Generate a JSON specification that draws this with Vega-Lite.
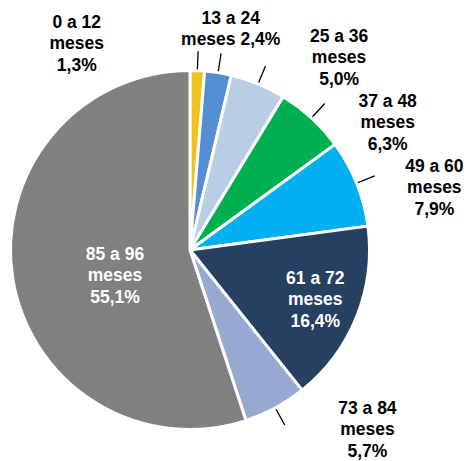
{
  "$schema": "https://vega.github.io/schema/vega-lite/v6.json",
  "width": 380,
  "height": 422,
  "autosize": {"type": "none"},
  "padding": {"left": 0, "top": 39, "right": 86, "bottom": 0},
  "background": "white",
  "config": {"view": {"stroke": null}},
  "data": {"values": [
    {"cat": "0 a 12 meses", "ord": 1, "value": 1.3, "label": "0 a 12\nmeses\n1,3%"},
    {"cat": "13 a 24 meses", "ord": 2, "value": 2.4, "label": "13 a 24\nmeses 2,4%"},
    {"cat": "25 a 36 meses", "ord": 3, "value": 5.0, "label": "25 a 36\nmeses\n5,0%"},
    {"cat": "37 a 48 meses", "ord": 4, "value": 6.3, "label": "37 a 48\nmeses\n6,3%"},
    {"cat": "49 a 60 meses", "ord": 5, "value": 7.9, "label": "49 a 60\nmeses\n7,9%"},
    {"cat": "61 a 72 meses", "ord": 6, "value": 16.4, "label": "61 a 72\nmeses\n16,4%"},
    {"cat": "73 a 84 meses", "ord": 7, "value": 5.7, "label": "73 a 84\nmeses\n5,7%"},
    {"cat": "85 a 96 meses", "ord": 8, "value": 55.1, "label": "85 a 96\nmeses\n55,1%"}
  ]},
  "transform": [
    {"stack": "value", "groupby": [], "sort": [{"field": "ord", "order": "ascending"}], "as": ["s0", "s1"]},
    {"calculate": "(datum.s0 + datum.s1) / 2", "as": "mid"}
  ],
  "layer": [
    {
      "mark": {"type": "arc", "radius": 179.5, "stroke": "white", "strokeWidth": 3},
      "encoding": {
        "theta": {"field": "s1", "type": "quantitative", "stack": null, "scale": {"domain": [0, 100.1]}},
        "theta2": {"field": "s0"},
        "color": {"field": "cat", "type": "nominal", "legend": null,
          "scale": {"domain": ["0 a 12 meses","13 a 24 meses","25 a 36 meses","37 a 48 meses","49 a 60 meses","61 a 72 meses","73 a 84 meses","85 a 96 meses"],
                    "range": ["#F1C21B","#558ED5","#B9CDE5","#00B050","#00B0F0","#254061","#95A9D3","#808080"]}}
      }
    },
    {
      "transform": [{"filter": "datum.ord != 6 && datum.ord != 8"}],
      "mark": {"type": "arc", "radius": 199, "radius2": 181, "fill": null, "stroke": "black", "strokeWidth": 1.3},
      "encoding": {
        "theta": {"field": "mid", "type": "quantitative", "stack": null},
        "theta2": {"field": "mid"}
      }
    },
    {
      "transform": [{"filter": "datum.ord == 1"}],
      "mark": {"type": "text", "radius": 190, "dx": -121, "dy": -37.5, "font": "Liberation Sans", "fontWeight": "bold", "fontSize": 17.5, "lineHeight": 21.5, "lineBreak": "\n", "align": "center", "baseline": "middle", "color": "black"},
      "encoding": {"theta": {"field": "mid", "type": "quantitative", "stack": null}, "text": {"field": "label"}}
    },
    {
      "transform": [{"filter": "datum.ord == 2"}],
      "mark": {"type": "text", "radius": 190, "dx": 11, "dy": -43.5, "font": "Liberation Sans", "fontWeight": "bold", "fontSize": 17.5, "lineHeight": 21.5, "lineBreak": "\n", "align": "center", "baseline": "middle", "color": "black"},
      "encoding": {"theta": {"field": "mid", "type": "quantitative", "stack": null}, "text": {"field": "label"}}
    },
    {
      "transform": [{"filter": "datum.ord == 3"}],
      "mark": {"type": "text", "radius": 190, "dx": 77, "dy": -37.5, "font": "Liberation Sans", "fontWeight": "bold", "fontSize": 17.5, "lineHeight": 21.5, "lineBreak": "\n", "align": "center", "baseline": "middle", "color": "black"},
      "encoding": {"theta": {"field": "mid", "type": "quantitative", "stack": null}, "text": {"field": "label"}}
    },
    {
      "transform": [{"filter": "datum.ord == 4"}],
      "mark": {"type": "text", "radius": 190, "dx": 69, "dy": -8.5, "font": "Liberation Sans", "fontWeight": "bold", "fontSize": 17.5, "lineHeight": 21.5, "lineBreak": "\n", "align": "center", "baseline": "middle", "color": "black"},
      "encoding": {"theta": {"field": "mid", "type": "quantitative", "stack": null}, "text": {"field": "label"}}
    },
    {
      "transform": [{"filter": "datum.ord == 5"}],
      "mark": {"type": "text", "radius": 190, "dx": 68, "dy": -12.5, "font": "Liberation Sans", "fontWeight": "bold", "fontSize": 17.5, "lineHeight": 21.5, "lineBreak": "\n", "align": "center", "baseline": "middle", "color": "black"},
      "encoding": {"theta": {"field": "mid", "type": "quantitative", "stack": null}, "text": {"field": "label"}}
    },
    {
      "transform": [{"filter": "datum.ord == 6"}],
      "mark": {"type": "text", "radius": 135, "dy": -21.5, "font": "Liberation Sans", "fontWeight": "bold", "fontSize": 17.5, "lineHeight": 21.5, "lineBreak": "\n", "align": "center", "baseline": "middle", "color": "white"},
      "encoding": {"theta": {"field": "mid", "type": "quantitative", "stack": null}, "text": {"field": "label"}}
    },
    {
      "transform": [{"filter": "datum.ord == 7"}],
      "mark": {"type": "text", "radius": 190, "dx": 87, "dy": -8.5, "font": "Liberation Sans", "fontWeight": "bold", "fontSize": 17.5, "lineHeight": 21.5, "lineBreak": "\n", "align": "center", "baseline": "middle", "color": "black"},
      "encoding": {"theta": {"field": "mid", "type": "quantitative", "stack": null}, "text": {"field": "label"}}
    },
    {
      "transform": [{"filter": "datum.ord == 8"}],
      "mark": {"type": "text", "radius": 78, "dx": 2, "dy": -7.5, "font": "Liberation Sans", "fontWeight": "bold", "fontSize": 17.5, "lineHeight": 21.5, "lineBreak": "\n", "align": "center", "baseline": "middle", "color": "white"},
      "encoding": {"theta": {"field": "mid", "type": "quantitative", "stack": null}, "text": {"field": "label"}}
    }
  ]
}
